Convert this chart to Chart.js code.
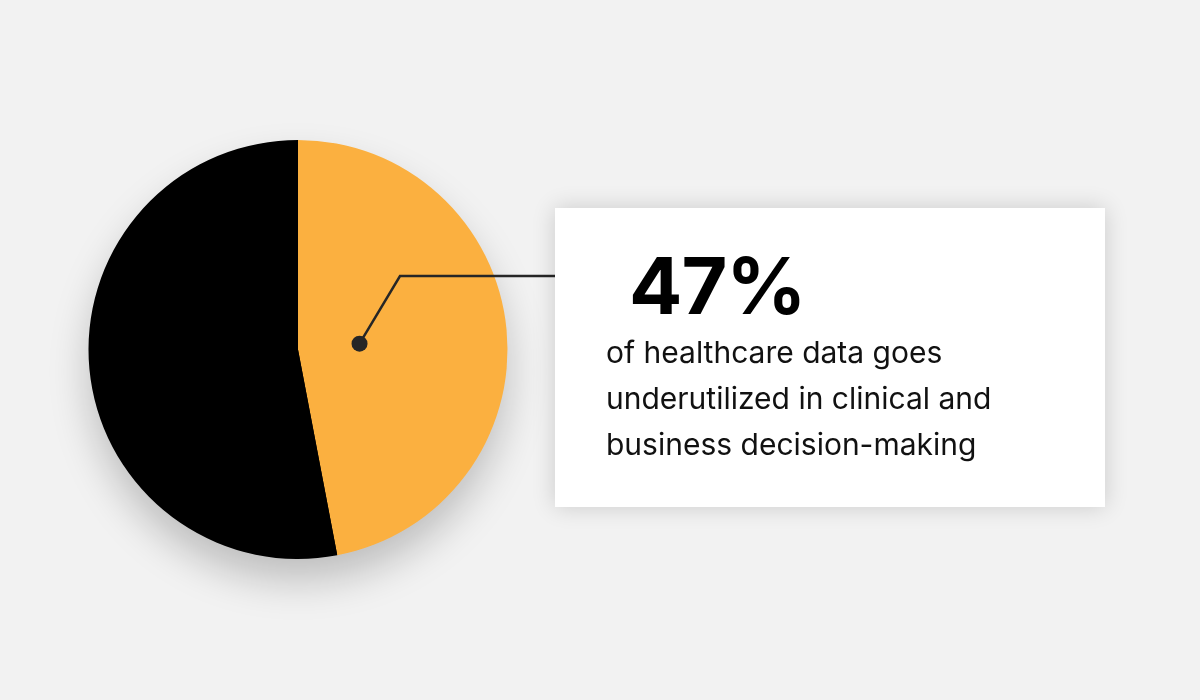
<!DOCTYPE html>
<html>
<head>
<meta charset="utf-8">
<script src="https://cdn.jsdelivr.net/npm/chart.js@4/dist/chart.umd.min.js"></script>
<style>
  html, body { margin:0; padding:0; background:#f2f2f2; }
  #wrap { position:relative; width:1200px; height:700px; overflow:hidden; }
  #pie { position:absolute; left:0; top:0; }
  #callout {
    position:absolute; left:555px; top:208px; width:550px; height:299px;
    background:#fff; box-shadow:0 0 22px rgba(0,0,0,0.16);
    font-family:Inter, "DejaVu Sans", sans-serif; color:#111;
  }
  #big { position:absolute; left:74px; top:29px; font-size:79px; font-weight:700; letter-spacing:-1px; color:#000; }
  #sub { position:absolute; left:51px; top:121px; font-size:30px; line-height:46px; font-weight:400; color:#111; }
</style>
</head>
<body>
<div id="wrap">
  <canvas id="pie" width="1200" height="700"></canvas>
  <div id="callout">
    <div id="big">47%</div>
    <div id="sub">of healthcare data goes<br>underutilized in clinical and<br>business decision-making</div>
  </div>
</div>
<script>
const labels = ["Underutilized", "Used"];
const shares = [47, 53];
const colors = ["#fbb040", "#000000"];

// soft drop shadow under the whole pie, drawn once before the slices
const pieShadow = {
  id: "pieShadow",
  beforeDatasetsDraw(chart){
    const arc = chart.getDatasetMeta(0).data[0];
    const c = chart.ctx;
    c.save();
    c.shadowColor = "rgba(0,0,0,0.22)";
    c.shadowBlur = 40;
    c.shadowOffsetY = 22;
    c.fillStyle = "#000";
    c.beginPath();
    c.arc(arc.x, arc.y, arc.outerRadius - 1, 0, Math.PI * 2);
    c.fill();
    c.restore();
  }
};

// leader line from the orange slice to the callout box
const leader = {
  id: "leader",
  afterDraw(chart){
    const arc = chart.getDatasetMeta(0).data[0];
    const mid = (arc.startAngle + arc.endAngle) / 2;
    const r = arc.outerRadius * 0.295;
    const px = arc.x + Math.cos(mid) * r;
    const py = arc.y + Math.sin(mid) * r;
    const c = chart.ctx;
    c.save();
    c.strokeStyle = "#262626";
    c.lineWidth = 2.5;
    c.beginPath();
    c.moveTo(px, py);
    c.lineTo(400, 276);
    c.lineTo(560, 276);
    c.stroke();
    c.fillStyle = "#262626";
    c.beginPath();
    c.arc(px, py, 8, 0, Math.PI * 2);
    c.fill();
    c.restore();
  }
};

new Chart(document.getElementById("pie"), {
  type: "pie",
  data: {
    labels,
    datasets: [{ data: shares, backgroundColor: colors, borderWidth: 0 }]
  },
  options: {
    responsive: false,
    animation: false,
    layout: { padding: { left: 88, right: 692, top: 140, bottom: 141 } },
    plugins: { legend: { display: false }, tooltip: { enabled: false } }
  },
  plugins: [pieShadow, leader]
});
</script>
</body>
</html>
